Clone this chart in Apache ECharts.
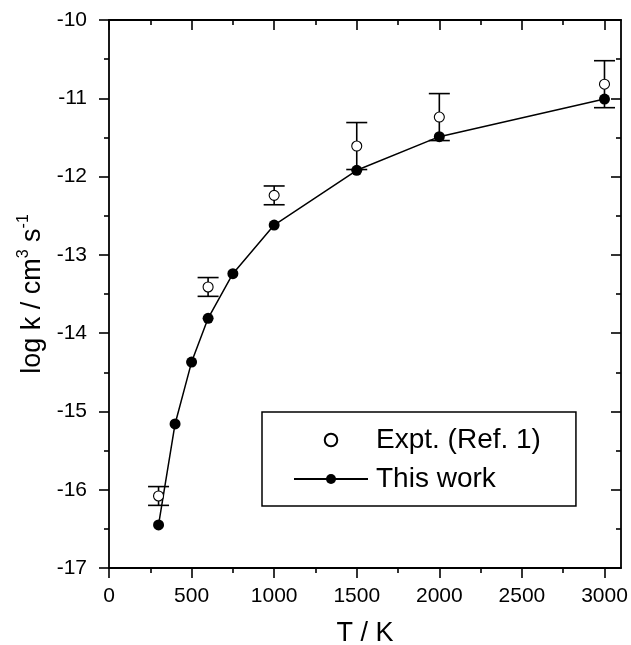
<!DOCTYPE html>
<html>
<head>
<meta charset="utf-8">
<script src="https://cdn.jsdelivr.net/npm/echarts@6/dist/echarts.min.js"></script>
<style>
html,body{margin:0;padding:0;background:#fff;}
#chart{width:631px;height:645px;}
</style>
</head>
<body>
<div id="chart"></div>
<script>
// ---- Data ----
const tempThisWork = [300, 400, 500, 600, 750, 1000, 1500, 2000, 3000];
const logkThisWork = [-16.45, -15.16, -14.37, -13.81, -13.24, -12.62, -11.92, -11.49, -11.01];

const tempExpt = [300, 600, 1000, 1500, 2000, 3000];
const logkExpt = [-16.08, -13.41, -12.24, -11.61, -11.24, -10.82];
const errExpt  = [0.12, 0.12, 0.12, 0.30, 0.30, 0.30];

const xMajorTicks = [0, 500, 1000, 1500, 2000, 2500, 3000];
const xMinorTicks = [250, 750, 1250, 1750, 2250, 2750];
const yMajorTicks = [-17, -16, -15, -14, -13, -12, -11, -10];
const yMinorTicks = [-16.5, -15.5, -14.5, -13.5, -12.5, -11.5, -10.5];

const seriesNames = ['Expt. (Ref. 1)', 'This work'];

// ---- Chart ----
const FONT = "'Liberation Sans', Arial, Helvetica, sans-serif";
const chart = echarts.init(document.getElementById('chart'), null, {renderer: 'canvas'});

const X_MIN = 0, X_MAX = 3100, Y_MIN = -17, Y_MAX = -10;
const lineStyle = {color: '#000', width: 1.8};
const tickStyle = {color: '#000', width: 1.6};

function xAx(opts) {
  return Object.assign({
    type: 'value', min: X_MIN, max: X_MAX, gridIndex: 0,
    splitLine: {show: false},
    axisLine: {show: false, onZero: false, lineStyle: lineStyle},
    axisLabel: {show: false},
    axisTick: {show: false},
  }, opts);
}
function yAx(opts) {
  return Object.assign({
    type: 'value', min: Y_MIN, max: Y_MAX, gridIndex: 0,
    splitLine: {show: false},
    axisLine: {show: false, onZero: false, lineStyle: lineStyle},
    axisLabel: {show: false},
    axisTick: {show: false},
  }, opts);
}

const exptData = tempExpt.map((t, i) => [t, logkExpt[i], errExpt[i]]);
const twData = tempThisWork.map((t, i) => [t, logkThisWork[i]]);

const option = {
  backgroundColor: '#fff',
  animation: false,
  grid: {left: 109, right: 10, top: 20, bottom: 77, containLabel: false, outerBoundsMode: 'none'},
  xAxis: [
    xAx({
      position: 'bottom',
      axisLine: {show: true, onZero: false, lineStyle: lineStyle},
      axisTick: {show: true, inside: false, length: 10, customValues: xMajorTicks, lineStyle: tickStyle},
      axisLabel: {show: true, customValues: xMajorTicks, margin: 18, color: '#000', fontSize: 21, fontFamily: FONT,
                  formatter: v => String(v)},
      name: 'T / K', nameLocation: 'middle', nameGap: 52,
      nameTextStyle: {color: '#000', fontSize: 27, fontFamily: FONT}
    }),
    xAx({
      position: 'bottom',
      axisTick: {show: true, inside: false, length: 5, customValues: xMinorTicks, lineStyle: tickStyle}
    }),
    xAx({
      position: 'top',
      axisLine: {show: true, onZero: false, lineStyle: lineStyle},
      axisTick: {show: true, inside: true, length: 10, customValues: xMajorTicks, lineStyle: tickStyle}
    }),
    xAx({
      position: 'top',
      axisTick: {show: true, inside: true, length: 5, customValues: xMinorTicks, lineStyle: tickStyle}
    })
  ],
  yAxis: [
    yAx({
      position: 'left',
      axisLine: {show: true, onZero: false, lineStyle: lineStyle},
      axisTick: {show: true, inside: false, length: 10, customValues: yMajorTicks, lineStyle: tickStyle},
      axisLabel: {show: true, customValues: yMajorTicks, margin: 22, color: '#000', fontSize: 21, fontFamily: FONT,
                  formatter: v => String(v)},
      name: '{a|log k / cm}{s|3}{a| s}{s|-1}', nameLocation: 'middle', nameGap: 60, nameRotate: 90,
      nameTextStyle: {
        color: '#000',
        rich: {
          a: {fontSize: 27, fontFamily: FONT, color: '#000', lineHeight: 33},
          s: {fontSize: 16, fontFamily: FONT, color: '#000', lineHeight: 16, verticalAlign: 'top'}
        }
      }
    }),
    yAx({
      position: 'left',
      axisTick: {show: true, inside: false, length: 5, customValues: yMinorTicks, lineStyle: tickStyle}
    }),
    yAx({
      position: 'right',
      axisLine: {show: true, onZero: false, lineStyle: lineStyle},
      axisTick: {show: true, inside: true, length: 10, customValues: yMajorTicks, lineStyle: tickStyle}
    }),
    yAx({
      position: 'right',
      axisTick: {show: true, inside: true, length: 5, customValues: yMinorTicks, lineStyle: tickStyle}
    })
  ],
  legend: {
    data: seriesNames,
    orient: 'vertical',
    left: 262, top: 412,
    padding: [13, 35, 12, 31],
    itemGap: 9,
    itemWidth: 74, itemHeight: 12.5,
    borderColor: '#000', borderWidth: 1.5, borderRadius: 0,
    backgroundColor: '#fff',
    textStyle: {color: '#000', fontSize: 28, fontFamily: FONT, lineHeight: 30, padding: [0, 0, 0, 3]}
  },
  series: [
    {
      name: 'errbars',
      type: 'custom',
      xAxisIndex: 0, yAxisIndex: 0,
      data: exptData,
      z: 2,
      renderItem: function (params, api) {
        const x = api.value(0), y = api.value(1), e = api.value(2);
        const top = api.coord([x, y + e]);
        const bot = api.coord([x, y - e]);
        const hw = 10.5;
        const st = {stroke: '#000', lineWidth: 1.6};
        return {
          type: 'group',
          children: [
            {type: 'line', shape: {x1: top[0], y1: top[1], x2: bot[0], y2: bot[1]}, style: st},
            {type: 'line', shape: {x1: top[0] - hw, y1: top[1], x2: top[0] + hw, y2: top[1]}, style: st},
            {type: 'line', shape: {x1: bot[0] - hw, y1: bot[1], x2: bot[0] + hw, y2: bot[1]}, style: st}
          ]
        };
      }
    },
    {
      name: seriesNames[1],
      type: 'line',
      xAxisIndex: 0, yAxisIndex: 0,
      data: twData,
      z: 3,
      symbol: 'circle', symbolSize: 11,
      lineStyle: {color: '#000', width: 1.5},
      itemStyle: {color: '#000'}
    },
    {
      name: seriesNames[0],
      type: 'scatter',
      xAxisIndex: 0, yAxisIndex: 0,
      data: exptData.map(d => [d[0], d[1]]),
      z: 4,
      symbol: 'circle', symbolSize: 10,
      itemStyle: {color: '#fff', borderColor: '#000', borderWidth: 1.1, opacity: 1}
    }
  ]
};
chart.setOption(option);
</script>
</body>
</html>
